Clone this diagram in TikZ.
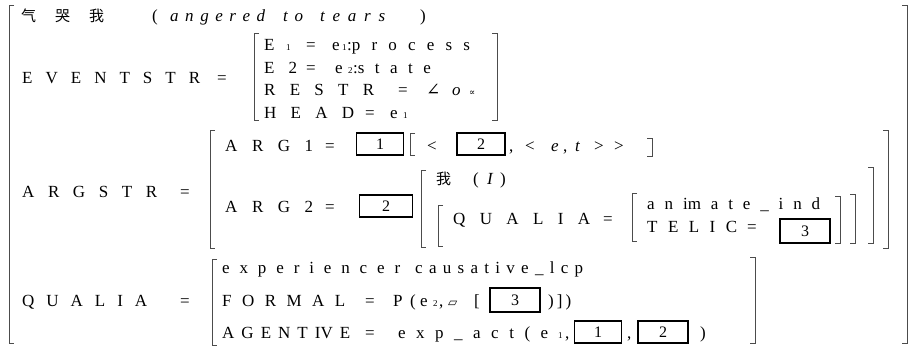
\documentclass[tikz,border=0pt]{standalone}
\usepackage{fontspec}
\setmainfont{Liberation Serif}
\newfontfamily\cjk{Noto Sans CJK SC}
\newfontfamily\symf{DejaVu Serif}
\newcommand\lbrk[3]{\draw[brk] (#1+5,#2) -- (#1,#2) -- (#1,#3) -- (#1+5,#3);}
\newcommand\rbrk[3]{\draw[brk] (#1-5,#2) -- (#1,#2) -- (#1,#3) -- (#1-5,#3);}
\newcommand\sw[2]{\makebox[#1pt][s]{#2}}
\tikzset{
  t/.style={anchor=base west, inner sep=0pt, font=\fontsize{17}{17}\selectfont},
  ti/.style={t, font=\fontsize{17}{17}\selectfont\itshape},
  sb/.style={anchor=base west, inner sep=0pt, font=\fontsize{9}{9}\selectfont},
  ck/.style={anchor=base west, inner sep=0pt, font=\fontsize{15}{15}\selectfont\cjk},
  brk/.style={line width=0.9pt, draw=black!70},
  bx/.style={draw, line width=1.1pt, minimum width=47pt, minimum height=22pt, inner sep=0pt, font=\fontsize{16}{16}\selectfont},
}
\begin{document}
\begin{tikzpicture}[x=1pt,y=-1pt]
\useasboundingbox (0,0) rectangle (911,348);
% outer bracket
\lbrk{9}{5}{343}
\rbrk{907}{5}{343}
% title
\node[ck] (q1) at (21,21) {气};
\node[ck] (q2) at (55,21) {哭};
\node[ck] (q3) at (89,21) {我};
\node[t] (tp1) at (152,21) {(};
\node[ti] (tw1) at (170,21) {\sw{95}{a n g e r e d}};
\node[ti] (tw2) at (283,21) {\sw{20}{t o}};
\node[ti] (tw3) at (320,21) {\sw{65}{t e a r s}};
\node[t] (tp2) at (420,21) {)};
% EVENTSTR
\node[t] (ev) at (22,83) {\sw{178}{E V E N T S T R}};
\node[t] (eveq) at (217,83) {=};
\lbrk{254}{33}{120}
\rbrk{497}{33}{120}
\node[t] (e1) at (264,50) {E};
\node[sb] (e1s) at (286,50) {1};
\node[t] (e1eq) at (306,50) {=};
\node[t] (e1v) at (332,50) {e};
\node[sb] (e1vs) at (342,50) {1};
\node[t] (e1p) at (347,50) {:\sw{118}{p r o c e s s}};
\node[t] (e2) at (264,73) {\sw{33}{E 2}};
\node[t] (e2eq) at (306,73) {=};
\node[t] (e2v) at (335,73) {e};
\node[sb] (e2vs) at (348,73) {2};
\node[t] (e2p) at (353,73) {:\sw{73}{s t a t e}};
\node[t] (rs) at (264,95) {\sw{110}{R E S T R}};
\node[t] (rseq) at (398,95) {=};
\node[t] (rsang) at (426,95) {\symf ∠};
\node[ti] (rso) at (452,95) {o};
\node[sb] (rsp) at (469,95) {\symf ∝};
\node[t] (hd) at (264,118) {\sw{90}{H E A D}};
\node[t] (hdeq) at (365,118) {=};
\node[t] (hdv) at (390,118) {e};
\node[sb] (hdvs) at (403,118) {1};
% ARGSTR
\node[t] (as) at (22,197) {\sw{135}{A R G S T R}};
\node[t] (aseq) at (180,197) {=};
\lbrk{210}{130}{248}
\rbrk{888}{130}{248}
% ARG1
\node[t] (a1) at (225,151) {\sw{88}{A R G 1}};
\node[t] (a1eq) at (325,151) {=};
\node[bx] (b11) at (380,144) {1};
\lbrk{410}{133}{155}
\node[t] (a1lt) at (427,151) {<};
\node[bx, minimum width=48pt] (b12) at (481,144) {2};
\node[t] (a1c) at (509,151) {,};
\node[t] (a1lt2) at (525,151) {<};
\node[ti] (a1e) at (551,151) {e};
\node[t] (a1c2) at (563,151) {,};
\node[ti] (a1t) at (575,151) {t};
\node[t] (a1gt) at (594,151) {>};
\node[t] (a1gt2) at (614,151) {>};
\rbrk{652}{138}{156}
% ARG2
\node[t] (a2) at (225,212) {\sw{88}{A R G 2}};
\node[t] (a2eq) at (325,212) {=};
\node[bx, minimum width=53pt] (b22) at (386,206) {2};
\lbrk{421}{170}{247}
\rbrk{873}{167}{243}
\node[ck] (wo) at (436,184) {我};
\node[t] (wop1) at (473,184) {(};
\node[ti] (woi) at (487,184) {I};
\node[t] (wop2) at (500,184) {)};
\lbrk{438}{205}{246}
\rbrk{855}{194}{243}
\node[t] (iq) at (453,224) {\sw{137}{Q U A L I A}};
\node[t] (iqeq) at (603,224) {=};
\lbrk{632}{193}{241}
\rbrk{840}{196}{243}
\node[t] (an) at (647,209) {\sw{173}{a n im a t e \_ i n d}};
\node[t] (tl) at (647,232) {\sw{90}{T E L I C}};
\node[t] (tleq) at (747,232) {=};
\node[bx, minimum width=50pt, minimum height=24pt] (b33) at (805,231) {3};
% QUALIA
\node[t] (qu) at (22,306) {\sw{125}{Q U A L I A}};
\node[t] (queq) at (180,306) {=};
\lbrk{212}{259}{345}
\rbrk{755}{257}{343}
\node[t] (q1a) at (222,273) {\sw{178}{e x p e r i e n c e r}};
\node[t] (q1b) at (415,273) {\sw{168}{c a u s a t i v e \_ l c p}};
\node[t] (fm) at (222,306) {\sw{123}{F O R M A L}};
\node[t] (fmeq) at (365,306) {=};
\node[t] (fmp) at (393,306) {P};
\node[t] (fmpa) at (410,306) {(};
\node[t] (fme) at (420,306) {e};
\node[sb] (fmes) at (433,306) {2};
\node[t] (fmc) at (439,306) {,};
\node[t] (fmsq) at (448,306) {\fontsize{12}{12}\selectfont\symf ▱};
\node[t] (fmbr) at (474,306) {[};
\node[bx, minimum width=50pt, minimum height=24pt] (b43) at (515,300) {3};
\node[t] (fmend) at (548,306) {)\hspace{3pt}]\hspace{3pt})};
\node[t] (ag) at (222,338) {\sw{128}{A G E N T IV E}};
\node[t] (ageq) at (365,338) {=};
\node[t] (agv) at (398,338) {\sw{150}{e x p \_ a c t ( e}};
\node[sb] (agvs) at (558,338) {1};
\node[t] (agc) at (565,338) {,};
\node[bx] (b51) at (598,332) {1};
\node[t] (agc2) at (627,338) {,};
\node[bx, minimum width=50pt] (b52) at (663,332) {2};
\node[t] (agend) at (700,338) {)};
\end{tikzpicture}
\end{document}
